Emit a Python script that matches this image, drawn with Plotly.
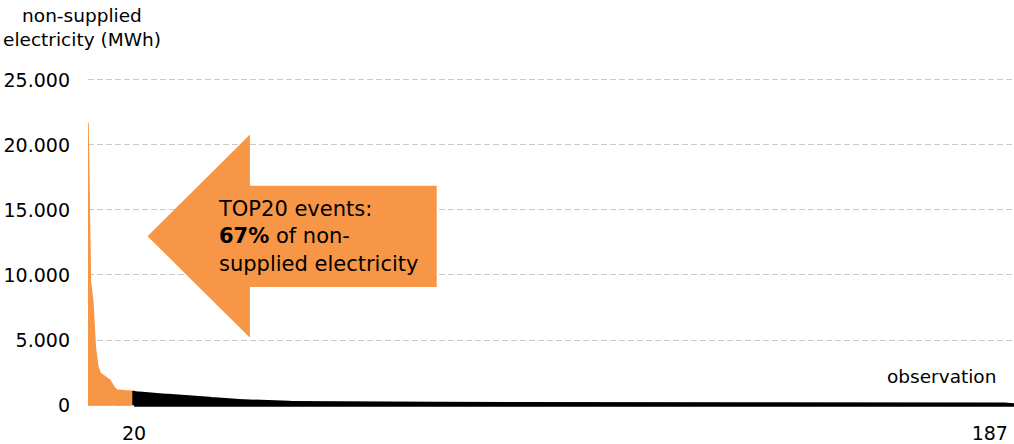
import plotly.graph_objects as go

# Non-supplied electricity per event (MWh), sorted from largest to smallest
top20_values = [21700, 9500, 7900, 4500, 3000, 2450, 2300, 2150, 2000, 1900,
                1600, 1300, 1150, 1120, 1100, 1090, 1080, 1070, 1060, 1050]

# Remaining events, starting again at rank 20 so both areas meet
tail_values = [
    950, 930, 910, 890, 870, 850, 820, 800, 790, 780, 770, 760, 750, 740, 730, 720, 710, 700, 690, 680,
    670, 650, 630, 610, 600, 590, 580, 570, 560, 540, 520, 500, 480, 460, 440, 420, 400, 390, 380, 370,
    360, 350, 340, 330, 320, 310, 305, 300, 295, 290, 290, 285, 280, 270, 260, 250, 240, 230, 220, 210,
    205, 200, 195, 190, 185, 180, 178, 175, 172, 170, 168, 166, 164, 162, 160, 158, 156, 154, 152, 150,
    149, 148, 147, 146, 145, 144, 143, 142, 141, 140, 139, 138, 137, 136, 135, 134, 133, 132, 131, 130,
    129, 128, 127, 126, 125, 124, 123, 122, 120, 118, 116, 115, 114, 114, 113, 113, 112, 112, 111, 111,
    110, 110, 109, 109, 108, 108, 107, 107, 106, 106, 105, 105, 104, 104, 103, 103, 102, 102, 101, 101,
    100, 100, 100, 99, 99, 99, 99, 98, 98, 98, 98, 97, 97, 97, 97, 96, 96, 96, 96, 95,
    95, 95, 95, 94, 94, 94, 94, 93, 93, 93, 93, 92, 92, 92, 92, 91, 91, 91, 91, 90,
    90, 90, 90, 90, 89, 89, 89, 89, 89, 88, 88, 88, 88, 88, 87, 87, 87, 87, 87, 86,
    86, 86, 86, 86, 86, 85, 85, 85, 85, 85, 85, 84, 84, 84, 84, 84, 84, 83, 83, 83,
    83, 83, 83, 82, 82, 82, 82, 82, 82, 81, 81, 81, 81, 81, 81, 80, 80, 80, 80, 80,
    80, 79, 79, 79, 79, 79, 79, 78, 78, 78, 78, 78, 78, 77, 77, 77, 77, 77, 77, 76,
    76, 76, 76, 76, 76, 76, 75, 75, 75, 75, 75, 75, 75, 74, 74, 74, 74, 74, 74, 74,
    74, 73, 73, 73, 73, 73, 73, 73, 73, 72, 72, 72, 72, 72, 72, 72, 72, 72, 71, 71,
    71, 71, 71, 71, 71, 71, 71, 71, 70, 70, 70, 70, 70, 70, 70, 70, 70, 70, 69, 69,
    69, 69, 69, 69, 69, 69, 69, 68, 68, 68, 68, 68, 68, 68, 68, 67, 67, 67, 67, 67,
    67, 67, 66, 66, 66, 66, 66, 66, 65, 65, 65, 65, 65, 64, 64, 64, 64, 63, 63, 63,
    62, 62, 61, 60,
]

top20_obs = list(range(1, len(top20_values) + 1))
tail_obs = list(range(len(top20_values), len(top20_values) + len(tail_values)))

y_tick_values = [0, 5000, 10000, 15000, 20000, 25000]
y_tick_labels = ["0", "5.000", "10.000", "15.000", "20.000", "25.000"]
x_tick_values = [20, 373]
x_tick_labels = ["20", "187"]

ORANGE = "#F79646"
FONT = "DejaVu Sans"

fig = go.Figure()

# Top 20 events as a closed orange area
fig.add_trace(go.Scatter(
    x=[top20_obs[0]] + top20_obs + [top20_obs[-1], top20_obs[0]],
    y=[0] + top20_values + [0, 0],
    mode="lines", fill="toself", fillcolor=ORANGE,
    line=dict(color=ORANGE, width=1.5), hoverinfo="skip",
))

# Remaining events as a closed black area with outline
fig.add_trace(go.Scatter(
    x=[tail_obs[0]] + tail_obs + [tail_obs[-1], tail_obs[0]],
    y=[0] + tail_values + [0, 0],
    mode="lines", fill="toself", fillcolor="black",
    line=dict(color="black", width=3.5), hoverinfo="skip",
))

# Left-pointing arrow callout (paper coordinates)
arrow_path = ("M 0.0643 0.5082 L 0.1749 0.8094 L 0.1749 0.6578 L 0.3766 0.6578 "
              "L 0.3766 0.3578 L 0.1749 0.3578 L 0.1749 0.2082 Z")
fig.add_shape(type="path", path=arrow_path, xref="paper", yref="paper",
              fillcolor=ORANGE, line=dict(width=0), layer="above")

fig.add_annotation(
    x=0.1385, y=0.5079, xref="paper", yref="paper",
    xanchor="left", yanchor="middle", align="left", showarrow=False,
    text="TOP20 events:<br><b>67%</b> of non-<br>supplied electricity",
    font=dict(family=FONT, size=21, color="black"),
)

fig.add_annotation(
    x=-0.0065, y=1.1249, xref="paper", yref="paper",
    xanchor="center", yanchor="middle", align="center", showarrow=False,
    text="non-supplied<br>electricity (MWh)",
    font=dict(family=FONT, size=18.5, color="black"),
)

fig.add_annotation(
    x=0.9212, y=0.0935, xref="paper", yref="paper",
    xanchor="center", yanchor="middle", showarrow=False,
    text="observation",
    font=dict(family=FONT, size=18.5, color="black"),
)

fig.update_layout(
    width=1014, height=444,
    margin=dict(l=88, r=0, t=70, b=33),
    paper_bgcolor="white", plot_bgcolor="white",
    showlegend=False,
    font=dict(family=FONT, size=19, color="black"),
    xaxis=dict(
        range=[top20_obs[0], tail_obs[-1]],
        tickmode="array", tickvals=x_tick_values, ticktext=x_tick_labels,
        showgrid=False, zeroline=False, showline=False, ticks="",
        ticklabelstandoff=12,
    ),
    yaxis=dict(
        range=[-229, 25762],
        tickmode="array", tickvals=y_tick_values, ticktext=y_tick_labels,
        showgrid=True, gridcolor="#C8C8C8", gridwidth=1, griddash="6px,3px",
        zeroline=False, showline=False, ticks="",
        ticklabelstandoff=17,
    ),
)

fig.write_html("out.html")
